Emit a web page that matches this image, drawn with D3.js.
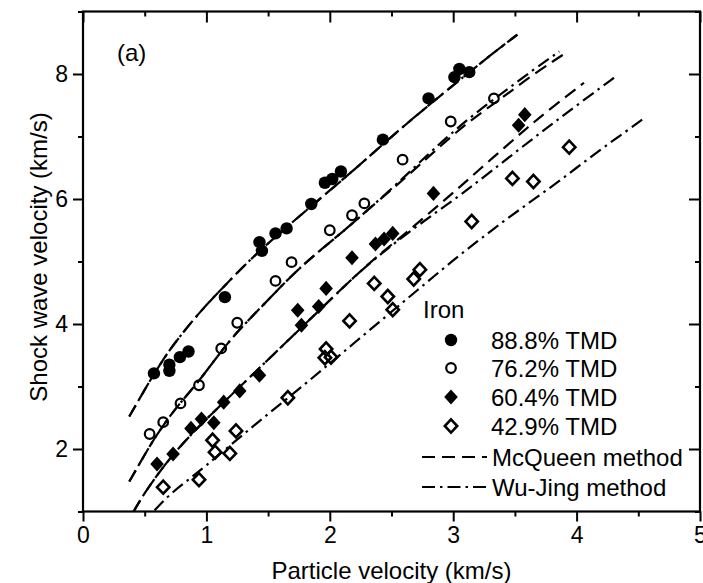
<!DOCTYPE html>
<html>
<head>
<meta charset="utf-8">
<script src="https://cdn.jsdelivr.net/npm/d3@7"></script>
<style>
  body { margin: 0; background: #fff; }
  svg text { font-family: "Liberation Sans", Arial, sans-serif; fill: #000; }
</style>
</head>
<body>
<div id="chart"></div>
<script>
// measured points (particle velocity, shock velocity) in km/s
var tmd888 = [[0.575,3.21],[0.70,3.35],[0.70,3.25],[0.785,3.47],[0.855,3.56],[1.15,4.43],[1.43,5.31],[1.45,5.17],
  [1.56,5.45],[1.65,5.53],[1.85,5.92],[1.96,6.26],[2.02,6.32],[2.09,6.44],[2.43,6.95],[2.80,7.61],[3.01,7.95],[3.05,8.08],[3.13,8.03]];
var tmd762 = [[0.54,2.24],[0.65,2.43],[0.79,2.73],[0.94,3.02],[1.12,3.61],[1.25,4.02],[1.56,4.69],[1.69,4.99],
  [2.0,5.5],[2.18,5.74],[2.28,5.93],[2.59,6.63],[2.98,7.24],[3.33,7.61]];
var tmd604 = [[0.60,1.76],[0.73,1.92],[0.875,2.33],[0.96,2.48],[1.06,2.42],[1.14,2.75],[1.27,2.93],[1.43,3.18],
  [1.74,4.22],[1.77,3.98],[1.91,4.28],[1.97,4.57],[2.18,5.06],[2.37,5.28],[2.44,5.36],[2.51,5.45],[2.84,6.09],[3.53,7.18],[3.58,7.35]];
var tmd429 = [[0.65,1.39],[0.94,1.51],[1.05,2.14],[1.07,1.95],[1.19,1.93],[1.24,2.29],[1.66,2.82],[1.96,3.46],
  [1.97,3.60],[2.01,3.47],[2.16,4.05],[2.36,4.65],[2.47,4.44],[2.51,4.23],[2.68,4.72],[2.73,4.87],[3.15,5.64],[3.48,6.33],[3.65,6.28],[3.94,6.83]];

// calculated Hugoniot curves
var mcq888 = [[0.375,2.52],[0.5,2.95],[0.6,3.28],[0.7,3.58],[0.8,3.84],[0.95,4.2],[1.15,4.62],[1.4,5.12],[1.65,5.55],
  [1.9,5.97],[2.2,6.47],[2.5,7.0],[2.8,7.5],[3.1,7.98],[3.32,8.33],[3.52,8.63]];
var wj888 = mcq888;
var mcq762 = [[0.375,1.48],[0.46,1.77],[0.55,2.08],[0.65,2.38],[0.77,2.7],[0.93,3.06],[1.08,3.46],[1.24,3.86],[1.46,4.3],
  [1.7,4.8],[1.91,5.16],[2.12,5.5],[2.38,5.95],[2.62,6.35],[2.84,6.75],[3.13,7.25],[3.4,7.62],[3.65,8.0],[3.93,8.36]];
var wj762 = [[0.375,1.48],[0.46,1.77],[0.55,2.08],[0.65,2.38],[0.77,2.7],[0.93,3.06],[1.08,3.46],[1.24,3.86],[1.46,4.3],
  [1.7,4.8],[1.91,5.16],[2.12,5.5],[2.38,5.95],[2.62,6.38],[2.84,6.8],[3.13,7.3],[3.4,7.7],[3.65,8.07],[3.86,8.36]];
var mcq604 = [[0.41,1.0],[0.5,1.3],[0.6,1.58],[0.7,1.84],[0.85,2.18],[1.0,2.48],[1.2,2.86],[1.4,3.24],[1.6,3.62],
  [1.8,4.0],[2.0,4.38],[2.2,4.76],[2.4,5.11],[2.62,5.46],[2.85,5.85],[3.03,6.15],[3.2,6.45],[3.42,6.83],[3.6,7.14],
  [3.79,7.45],[4.06,7.86]];
var wj604 = [[0.41,1.0],[0.5,1.3],[0.6,1.58],[0.7,1.84],[0.85,2.18],[1.0,2.48],[1.2,2.86],[1.4,3.24],[1.6,3.62],
  [1.8,4.0],[2.0,4.38],[2.2,4.76],[2.4,5.1],[2.62,5.44],[2.85,5.77],[3.07,6.08],[3.3,6.43],[3.55,6.82],[3.8,7.2],
  [4.05,7.57],[4.33,7.98]];
var wj429 = [[0.58,1.02],[0.7,1.27],[0.85,1.5],[1.0,1.74],[1.2,2.07],[1.4,2.4],[1.6,2.72],[1.8,3.04],[2.0,3.37],
  [2.2,3.7],[2.4,4.03],[2.6,4.36],[2.8,4.69],[3.0,5.02],[3.2,5.33],[3.4,5.63],[3.6,5.92],[3.8,6.2],[4.0,6.5],
  [4.2,6.8],[4.4,7.08],[4.56,7.31]];

var xTicks = [0,1,2,3,4,5];
var xMinor = [0.5,1.5,2.5,3.5,4.5];
var yTicks = [2,4,6,8];
var yMinor = [1,3,5,7,9];

var legendLabels = ["88.8% TMD","76.2% TMD","60.4% TMD","42.9% TMD"];
var methodLabels = ["McQueen method","Wu-Jing method"];

var width = 703, height = 583;
var pLeft = 83, pRight = 700, pTop = 11.5, pBottom = 511.5;

var svg = d3.select("#chart").append("svg")
  .attr("width", width).attr("height", height);

var x = d3.scaleLinear().domain([0,5]).range([pLeft, pRight]);
var y = d3.scaleLinear().domain([1,9]).range([pBottom, pTop]);

var dashMcq = "13,7";
var dashWj = "13,5,2.5,5";

svg.append("clipPath").attr("id","plotclip")
  .append("rect").attr("x",pLeft).attr("y",pTop).attr("width",pRight-pLeft).attr("height",pBottom-pTop);

var line = d3.line().curve(d3.curveBasis)
  .x(function(d){ return x(d[0]); })
  .y(function(d){ return y(d[1]); });

var curves = [
  {pts: mcq888, dash: dashMcq}, {pts: wj888, dash: dashWj},
  {pts: mcq762, dash: dashMcq}, {pts: wj762, dash: dashWj},
  {pts: mcq604, dash: dashMcq}, {pts: wj604, dash: dashWj},
  {pts: wj429, dash: dashWj}
];

svg.append("g").attr("clip-path","url(#plotclip)")
  .selectAll("path").data(curves).enter()
  .append("path")
  .attr("d", function(d){ return line(d.pts); })
  .attr("fill","none")
  .attr("stroke","#000")
  .attr("stroke-width",2.2)
  .style("stroke-dasharray", function(d){ return d.dash; });

// marker shapes
function diamond(w,h){ return "M0," + (-h) + "L" + w + ",0L0," + h + "L" + (-w) + ",0Z"; }
var styles = [
  {path: d3.symbol().type(d3.symbolCircle).size(Math.PI*6.2*6.2)(), fill:"#000", stroke:"none", sw:0},
  {path: d3.symbol().type(d3.symbolCircle).size(Math.PI*4.8*4.8)(), fill:"none", stroke:"#000", sw:2.2},
  {path: diamond(6.8,7.6), fill:"#000", stroke:"none", sw:0},
  {path: diamond(6.2,6.6), fill:"none", stroke:"#000", sw:2.6}
];
var sets = [tmd888, tmd762, tmd604, tmd429];

sets.forEach(function(set, i){
  svg.append("g").selectAll("path").data(set).enter()
    .append("path")
    .attr("d", styles[i].path)
    .attr("transform", function(d){ return "translate(" + x(d[0]) + "," + y(d[1]) + ")"; })
    .attr("fill", styles[i].fill)
    .attr("stroke", styles[i].stroke)
    .attr("stroke-width", styles[i].sw);
});

// axes
function styleAxis(g){
  g.select(".domain").remove();
  g.selectAll("line").attr("stroke","#000").attr("stroke-width",2);
  g.selectAll("text").style("font-size","23px");
}
svg.append("g").attr("transform","translate(0," + pBottom + ")")
  .call(d3.axisBottom(x).tickValues(xTicks).tickSize(10).tickPadding(5).tickFormat(d3.format("d"))).call(styleAxis);
svg.append("g").attr("transform","translate(0," + pBottom + ")")
  .call(d3.axisBottom(x).tickValues(xMinor).tickSize(5).tickFormat("")).call(styleAxis);
svg.append("g").attr("transform","translate(" + pLeft + ",0)")
  .call(d3.axisLeft(y).tickValues(yTicks).tickSize(10).tickPadding(5).tickFormat(d3.format("d"))).call(styleAxis);
svg.append("g").attr("transform","translate(" + pLeft + ",0)")
  .call(d3.axisLeft(y).tickValues(yMinor).tickSize(5).tickFormat("")).call(styleAxis);
svg.append("g").attr("transform","translate(0," + pTop + ")")
  .call(d3.axisTop(x).tickValues(xTicks).tickSize(-11).tickFormat("")).call(styleAxis);
svg.append("g").attr("transform","translate(0," + pTop + ")")
  .call(d3.axisTop(x).tickValues(xMinor).tickSize(-5).tickFormat("")).call(styleAxis);
svg.append("g").attr("transform","translate(" + pRight + ",0)")
  .call(d3.axisRight(y).tickValues(yTicks).tickSize(-11).tickFormat("")).call(styleAxis);
svg.append("g").attr("transform","translate(" + pRight + ",0)")
  .call(d3.axisRight(y).tickValues(yMinor).tickSize(-5).tickFormat("")).call(styleAxis);

svg.append("rect")
  .attr("x",pLeft).attr("y",pTop).attr("width",pRight-pLeft).attr("height",pBottom-pTop)
  .attr("fill","none").attr("stroke","#000").attr("stroke-width",2.2);

// titles
svg.append("text").attr("x",(pLeft+pRight)/2).attr("y",579)
  .attr("text-anchor","middle").style("font-size","24px").text("Particle velocity (km/s)");
svg.append("text").attr("transform","translate(47,257) rotate(-90)")
  .attr("text-anchor","middle").style("font-size","24px").text("Shock wave velocity (km/s)");
svg.append("text").attr("x",117).attr("y",61).style("font-size","24px").text("(a)");

// legend
svg.append("text").attr("x",423).attr("y",318).style("font-size","24px").text("Iron");
var rowY = [340,368,397,426];
legendLabels.forEach(function(lab, i){
  svg.append("path").attr("d", styles[i].path)
    .attr("transform","translate(451," + rowY[i] + ")")
    .attr("fill", styles[i].fill).attr("stroke", styles[i].stroke).attr("stroke-width", styles[i].sw);
  svg.append("text").attr("x",491).attr("y",rowY[i]+8.5).style("font-size","24px").text(lab);
});
var methY = [457,487];
var methDash = [dashMcq, dashWj];
methodLabels.forEach(function(lab, i){
  svg.append("line").attr("x1",422).attr("x2",487).attr("y1",methY[i]).attr("y2",methY[i])
    .attr("stroke","#000").attr("stroke-width",2).style("stroke-dasharray", methDash[i]);
  svg.append("text").attr("x",492).attr("y",methY[i]+8.5).style("font-size","24px").text(lab);
});
</script>
</body>
</html>
